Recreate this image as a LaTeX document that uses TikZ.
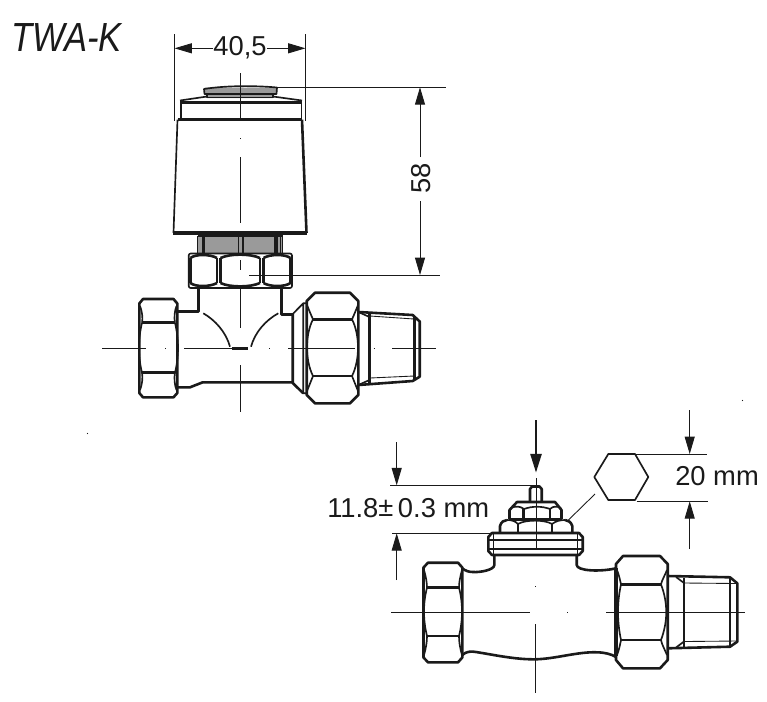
\documentclass[tikz,border=0pt]{standalone}
\usepackage{fontspec}
\setmainfont{Liberation Sans}
\usetikzlibrary{arrows.meta}
\definecolor{ink}{HTML}{1A1A1A}
\definecolor{capgray}{HTML}{9A9A9A}
\tikzset{
  thin line/.style={draw=ink,line width=0.65pt},
  heavy/.style={draw=ink,line width=1.95pt,line join=round},
  medium/.style={draw=ink,line width=1.25pt,line join=round},
  extra heavy/.style={draw=ink,line width=2.7pt},
  leadarrow/.style={draw=ink,line width=0.65pt,-{Triangle[length=13pt,width=7.5pt]}},
  label/.style={inner sep=0pt,text=ink,font=\fontsize{20.5}{23}\selectfont},
}
\begin{document}
\begin{tikzpicture}[x=0.75pt,y=-0.75pt]
\useasboundingbox (0,0) rectangle (767,701);
% ---------- title
\node[inner sep=0pt,text=ink,xscale=0.85,font=\fontsize{30.5}{32}\selectfont\itshape] (title) at (66.5,38) {TWA-K};

% ---------- upper figure: actuator
\fill[capgray] (204.5,87.5) -- (277,87.5) -- (277,93) -- (273,93) -- (273,98) -- (207,98) -- (207,93) -- (204.5,93) -- cycle;
\draw[medium] (204.5,94) -- (204,89) .. controls (225,85.5) and (255,85.5) .. (277,87.5) -- (276.5,94) -- cycle;
\draw[medium] (207,94) -- (207,97.5) -- (273,97.5) -- (273,94);
\draw[medium] (180,100.5) -- (207,96.5) (273,96.5) -- (302,100.5);
\draw[heavy] (181,102.7) -- (302,102.7);
\draw[medium] (181,101) -- (181,119) (301.5,101) -- (301.5,119);
\draw[heavy] (177.5,119.7) -- (302,119.7);
\draw[medium] (177.5,119.7) -- (173.5,233);
\draw[heavy] (302,119.7) -- (306.5,233);
\draw[line width=3pt,draw=ink] (173,233.2) -- (307,233.2);
% neck
\fill[capgray] (197.5,236) rectangle (282.5,253);
\draw[medium] (197.5,236) -- (282.5,236);
\draw[thin line] (197.5,236) -- (197.5,253) (282.5,236) -- (282.5,253);
\draw[extra heavy] (203.5,236) -- (203.5,254);
\draw[medium] (238.5,236) -- (238.5,253) (243,236) -- (243,253);
\draw[extra heavy] (276,236) -- (276,254);
\draw[thin line] (280,236) -- (280,253);
% coupling nut
\draw[medium,rounded corners=1.5pt] (188.7,253.5) rectangle (292,288);
\draw[heavy] (190.5,258) .. controls (195,254) and (210,254) .. (217,258)
  (220.5,258) .. controls (230,253.5) and (250,253.5) .. (260,258)
  (263.5,258) .. controls (270,254) and (285,254) .. (290.5,258)
  (190.5,258) -- (190.5,283) (290.5,258) -- (290.5,283)
  (190.5,283) .. controls (195,287) and (210,287) .. (217,283)
  (220.5,283) .. controls (230,287.5) and (250,287.5) .. (260,283)
  (263.5,283) .. controls (270,287) and (285,287) .. (290.5,283);
\draw[heavy] (217,258) -- (217,283) (220.5,258) -- (220.5,283) (260,258) -- (260,283) (263.5,258) -- (263.5,283);

% valve body
\draw[heavy] (198.3,288) -- (198.3,311.7) -- (177.5,311.7);
\draw[heavy] (281.7,288) -- (281.7,314.5) -- (293,314.5);
\draw[heavy] (177.5,387.3) -- (190,387.3) -- (202.7,382.3) -- (293,382.3);
\draw[medium] (203.3,313.3) .. controls (215,320) and (226,332) .. (230,346.7);
\draw[medium] (278.3,313.3) .. controls (266,320) and (255,332) .. (251,346.7);
% left nut
\draw[heavy] (143,299) -- (173.5,299) -- (177.3,303.5) -- (177.3,393) -- (173.5,397.3) -- (143,397.3) -- (139.3,393) -- (139.3,303.5) -- cycle;
\draw[heavy] (142,322.7) -- (175,322.7) (142,372.7) -- (175,372.7);
\draw[medium] (140,306) .. controls (142,311) and (143,318) .. (142,322.7) (176.5,306) .. controls (174.5,311) and (174,318) .. (175,322.7);
\draw[medium] (142,322.7) .. controls (138,340) and (138,356) .. (142,372.7);
\draw[medium] (175,322.7) .. controls (179,340) and (179,356) .. (175,372.7);
\draw[medium] (142,372.7) .. controls (143,378) and (142,385) .. (140,390) (175,372.7) .. controls (174,378) and (174.5,385) .. (176.5,390);
% flange
\draw[heavy] (292.7,314) -- (292.7,383) -- (303.3,393.3);
\draw[medium] (292.7,314) -- (303.3,303.3) -- (306.7,303.3) (303.3,303.3) -- (303.3,393.3) -- (306.7,393.3);
\draw[heavy] (307,303.3) -- (307,393.3);
% right nut
\draw[heavy] (315,292.7) -- (350,292.7) -- (358.3,301) -- (358.3,395) -- (350,403.3) -- (315,403.3) -- (306.7,395) -- (306.7,301) -- cycle;
\draw[heavy] (313,319.3) -- (352,319.3) (313,376) -- (352,376);
\draw[medium] (307,305) .. controls (309,310) and (311,315) .. (313,319.3)
  .. controls (305,335) and (305,360) .. (313,376)
  .. controls (311,381) and (309,386) .. (307,391);
\draw[medium] (358,305) .. controls (356,310) and (354,315) .. (352,319.3)
  .. controls (360,335) and (360,360) .. (352,376)
  .. controls (354,381) and (356,386) .. (358,391);
% right thread
\draw[heavy] (358.3,312) -- (412.7,315) -- (419.7,321.5) -- (419.7,376.7) -- (412.7,381) -- (358.3,385);
\draw[thin line] (370,316) -- (414,319) (370,378) -- (414,376);
\draw[extra heavy] (369.5,314) -- (369.5,383);
\draw[medium] (358.3,312) -- (369.5,317) (358.3,385) -- (369.5,380);
\draw[heavy] (414.5,317) -- (414.5,380);

% centre lines, upper
\draw[thin line] (240,73) -- (240,119.5) (240,138) -- (240,139) (240,157) -- (240,223);
\draw[thin line] (240,260) -- (240,270) (240,288) -- (240,328) (240,365) -- (240,411.7);
\draw[thin line] (102,348.3) -- (146,348.3) (165,348.3) -- (166,348.3) (184,348.3) -- (248,348.3) (269,348.3) -- (270,348.3) (288.3,348.3) -- (355,348.3) (373.5,348.3) -- (374.5,348.3) (392.3,348.3) -- (435.7,348.3);
\draw[extra heavy] (232,348.3) -- (248,348.3);

% dimensions, upper
\coordinate (w1a) at (174.5,34); \coordinate (w1b) at (174.5,121);
\coordinate (w2a) at (305.5,34); \coordinate (w2b) at (305.5,121);
\draw[thin line] (w1a) -- (w1b) (w2a) -- (w2b);
\node[label] (wlab) at (240,47.5) {40,5};
\coordinate (wl) at (174.5,48.3); \coordinate (wr) at (305.5,48.3);
\draw[leadarrow] (wlab) ++(-27,0.8) -- (wl);
\draw[leadarrow] (wlab) ++(27,0.8) -- (wr);
\coordinate (ht) at (420,87.3); \coordinate (hb) at (420,275);
\draw[thin line] (277,87.3) -- (446,87.3) (249,275) -- (440,275);
\node[label,rotate=90] (hlab) at (421,178) {58};
\draw[leadarrow] (hlab) ++(-1,-21) -- (ht);
\draw[leadarrow] (hlab) ++(-1,23) -- (hb);

% ---------- lower figure
\coordinate (pinarrow) at (536,420); \coordinate (pintip) at (536,472.5);
\draw[draw=ink,line width=1.1pt,-{Triangle[length=14pt,width=8.5pt]}] (pinarrow) -- (pintip);
% pin
\draw[heavy] (530,501) -- (530,489) -- (532,486.5) -- (539.5,486.5) -- (541.7,489) -- (541.7,501);
% upper nut
\draw[heavy] (509.5,519) -- (509.5,510) -- (517,502) -- (555,502) -- (561.5,510) -- (561.5,519);
\draw[medium] (510.5,508) .. controls (516,506) and (520,506) .. (524,509) .. controls (532,506) and (542,506) .. (550,509) .. controls (553,506) and (557,506) .. (561,508);
\draw[heavy] (523.5,509) -- (523.5,519) (550,509) -- (550,519);
\draw[heavy] (509,519.5) -- (562,519.5);
% lower nut
\draw[heavy] (500,532) -- (500,526) .. controls (501,522) and (504,520) .. (507,520);
\draw[heavy] (572.3,532) -- (572.3,526) .. controls (571,522) and (568,520) .. (565,520);
\draw[medium] (507,520) .. controls (512,520) and (515,521) .. (518,524) .. controls (525,519.5) and (545,519.5) .. (552,524) .. controls (556,521) and (560,520) .. (565,520);
\draw[heavy] (518,524) -- (518,532.5) (552,524) -- (552,532.5);
% flange
\draw[heavy] (492,533) -- (579,533) -- (582.7,537) -- (582.7,551) -- (579,555) -- (492,555) -- (488.3,551) -- (488.3,537) -- cycle;
\draw[heavy] (489,540) -- (582,540) (489,549) -- (582,549);
\draw[medium] (493.5,533) -- (493.5,555) (577.5,533) -- (577.5,555);
% neck and body
\draw[heavy] (494.3,555) -- (494.3,565) .. controls (494.3,570) and (480,572.5) .. (473,572) .. controls (469,572) and (466,571) .. (462.3,568.5);
\draw[heavy] (576.7,555) -- (576.7,565) .. controls (577,571) and (600,572) .. (616,568.3);
\draw[heavy] (462.3,655) .. controls (466,651.5) and (471,651) .. (476,652) .. controls (495,655) and (515,659.5) .. (535,659.3) .. controls (555,659) and (578,651.5) .. (597,652.3) .. controls (605,652.5) and (611,654) .. (616,657);
% left nut
\draw[heavy] (428,562.7) -- (458,562.7) -- (462.3,567.5) -- (462.3,657.5) -- (458,662.3) -- (428,662.3) -- (423.5,657.5) -- (423.5,567.5) -- cycle;
\draw[heavy] (427,587.7) -- (459,587.7) (427,636) -- (459,636);
\draw[medium] (424,570) .. controls (426,577) and (427,583) .. (427,587.7) .. controls (423,603) and (423,620) .. (427,636) .. controls (427,642) and (426,648) .. (424,655);
\draw[medium] (462,570) .. controls (460,577) and (459,583) .. (459,587.7) .. controls (463,603) and (463,620) .. (459,636) .. controls (459,642) and (460,648) .. (462,655);
% right nut
\draw[heavy] (623,556) -- (660,556) -- (667.7,564) -- (667.7,660) -- (660,668.3) -- (623,668.3) -- (616,660) -- (616,564) -- cycle;
\draw[extra heavy] (616,568) -- (616,656);
\draw[heavy] (621,584.3) -- (661,584.3) (621,640) -- (661,640);
\draw[medium] (617,570) .. controls (619,575) and (620,580) .. (621,584.3) .. controls (617,603) and (617,621) .. (621,640) .. controls (620,645) and (619,650) .. (617,655);
\draw[medium] (667,570) .. controls (665,575) and (662,580) .. (661,584.3) .. controls (668,603) and (668,621) .. (661,640) .. controls (662,645) and (665,650) .. (667,655);
% right thread
\draw[heavy] (667.7,576) -- (730,577.3) -- (737.3,583.3) -- (737.3,641.7) -- (730,646.7) -- (667.7,648.3);
\draw[heavy] (684,578) -- (684,647);
\draw[medium] (730,578) -- (730,646);
\draw[thin line] (684,583) -- (737,583.5) (684,641.5) -- (737,641);
\draw[medium] (676,577) -- (684,583) (676,647.5) -- (684,641.5);

% centre lines, lower
\draw[thin line] (536,478) -- (536,548);
\draw[thin line] (391,612.3) -- (530,612.3) (567,612.3) -- (568,612.3) (606,612.3) -- (745,612.3);
\draw[thin line] (535.3,586.3) -- (535.3,587.3) (535.3,624) -- (535.3,693.3);

% 11.8 dimension
\coordinate (a1) at (396.7,442.3); \coordinate (a2) at (396.7,485.3);
\coordinate (b1) at (396.7,580); \coordinate (b2) at (396.7,533.3);
\draw[thin line] (390,485.3) -- (536,485.3) (392.3,533.3) -- (493,533.3);
\draw[leadarrow] (a1) -- (a2);
\draw[leadarrow] (b1) -- (b2);
\node[label,anchor=west] (dlab) at (327,508) {11.8\raisebox{1pt}{±}\,0.3 mm};

% hexagon
\node[inner sep=0pt] (hexc) at (621.3,477) {};
\draw[medium] (594.3,477) -- (608.3,454) -- (635,454) -- (648.3,477) -- (635,500) -- (608.3,500) -- cycle;
\draw[thin line] (595,494) -- (566.7,521.7);
% 20 mm
\coordinate (c1) at (689.7,410); \coordinate (c2) at (689.7,454);
\coordinate (e1) at (689.7,549); \coordinate (e2) at (689.7,501.3);
\draw[thin line] (635,454) -- (706.7,454) (636.7,501.3) -- (707.7,501.3);
\draw[leadarrow] (c1) -- (c2);
\draw[leadarrow] (e1) -- (e2);
\node[label,anchor=west] (elab) at (675,475.7) {20 mm};
% specks
\fill[ink] (87.5,433.5) circle (0.6);
\fill[ink] (742.5,400.5) circle (0.6);
\end{tikzpicture}
\end{document}
